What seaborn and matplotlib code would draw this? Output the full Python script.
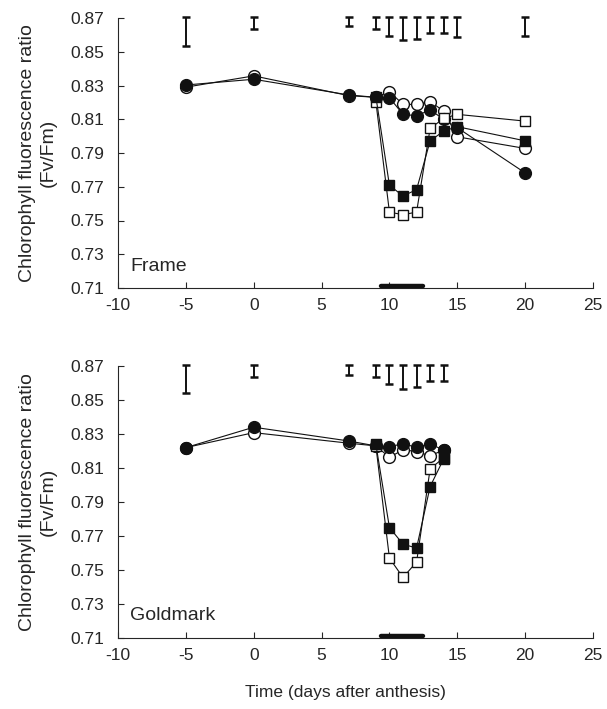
import numpy as np
import pandas as pd
import seaborn as sns
import matplotlib.pyplot as plt

# Frame
frame_circle_days = [-5, 0, 7, 9, 10, 11, 12, 13, 14, 15, 20]
frame_square_days = [9, 10, 11, 12, 13, 14, 15, 20]
frame_open_circle = [0.829, 0.8357, 0.824, 0.823, 0.8264, 0.8188, 0.8188, 0.8204, 0.8149, 0.7996, 0.7927]
frame_filled_circle = [0.8303, 0.8337, 0.8244, 0.823, 0.8228, 0.8129, 0.8121, 0.8155, 0.810, 0.805, 0.7782]
frame_open_square = [0.8204, 0.755, 0.7534, 0.755, 0.8046, 0.8105, 0.8129, 0.8089]
frame_filled_square = [0.8234, 0.7709, 0.7645, 0.7683, 0.7972, 0.8030, 0.8056, 0.7972]
frame_err_days = [-5, 0, 7, 9, 10, 11, 12, 13, 14, 15, 20]
frame_err_top = [0.8705, 0.8705, 0.8705, 0.8705, 0.8705, 0.8705, 0.8705, 0.8705, 0.8705, 0.8705, 0.8705]
frame_err_bottom = [0.8535, 0.8635, 0.865, 0.8635, 0.8595, 0.8567, 0.8575, 0.8611, 0.8611, 0.8585, 0.8595]

# Goldmark
gold_circle_days = [-5, 0, 7, 9, 10, 11, 12, 13, 14]
gold_square_days = [9, 10, 11, 12, 13, 14]
gold_open_circle = [0.822, 0.8308, 0.8246, 0.823, 0.8163, 0.8207, 0.8197, 0.8171, 0.8207]
gold_filled_circle = [0.8220, 0.8340, 0.8259, 0.823, 0.8226, 0.8242, 0.8222, 0.8242, 0.8205]
gold_open_square = [0.823, 0.757, 0.7456, 0.7547, 0.8095, 0.816]
gold_filled_square = [0.824, 0.775, 0.7652, 0.7629, 0.7991, 0.8154]
gold_err_days = [-5, 0, 7, 9, 10, 11, 12, 13, 14]
gold_err_top = [0.8705, 0.8705, 0.8705, 0.8705, 0.8705, 0.8705, 0.8705, 0.8705, 0.8705]
gold_err_bottom = [0.854, 0.8633, 0.865, 0.8633, 0.8594, 0.8563, 0.8579, 0.8612, 0.8612]

heat_period = [9.4, 12.5]
panel_names = ["Frame", "Goldmark"]
y_ticks = [0.71, 0.73, 0.75, 0.77, 0.79, 0.81, 0.83, 0.85, 0.87]
x_ticks = [-10, -5, 0, 5, 10, 15, 20, 25]

sns.set_style("ticks")
plt.rcParams['font.family'] = ['Liberation Sans', 'DejaVu Sans']
plt.rcParams['axes.unicode_minus'] = False

fig = plt.figure(figsize=(6.07, 7.09), dpi=100)
ax1 = fig.add_axes([118 / 607, 1 - 288 / 709, 475 / 607, 270 / 709])
ax2 = fig.add_axes([118 / 607, 1 - 638 / 709, 475 / 607, 272 / 709])

panels = [
    (ax1, frame_circle_days, frame_square_days, frame_open_circle, frame_filled_circle,
     frame_open_square, frame_filled_square, frame_err_days, frame_err_top, frame_err_bottom),
    (ax2, gold_circle_days, gold_square_days, gold_open_circle, gold_filled_circle,
     gold_open_square, gold_filled_square, gold_err_days, gold_err_top, gold_err_bottom),
]

dark = '#111111'
for name, (ax, cd, sd, oc, fc, osq, fsq, ed, et, eb) in zip(panel_names, panels):
    series = [
        (cd, oc, 'o', 'white'),
        (cd, fc, 'o', dark),
        (sd, osq, 's', 'white'),
        (sd, fsq, 's', dark),
    ]
    for days, vals, mk, face in series:
        df = pd.DataFrame({'day': days, 'val': vals})
        sns.lineplot(data=df, x='day', y='val', ax=ax, color=dark, lw=0.8,
                     marker=mk, markersize=8.5 if mk == 'o' else 7.8,
                     markerfacecolor=face, markeredgecolor=dark, markeredgewidth=1.0)
    mid = (np.array(et) + np.array(eb)) / 2
    half = (np.array(et) - np.array(eb)) / 2
    eb_art = ax.errorbar(ed, mid, yerr=half, fmt='none', ecolor=dark, elinewidth=1.4,
                         capsize=3, capthick=1.8)
    for a in eb_art.lines[1] + eb_art.lines[2]:
        a.set_clip_on(False)
    bar = ax.hlines(0.7113, heat_period[0], heat_period[1], color=dark, lw=3.2,
                    clip_on=False, zorder=5)
    bar.set_capstyle('round')

    ax.set_xlim(-10, 25)
    ax.set_ylim(0.71, 0.87)
    ax.set_xticks(x_ticks)
    ax.set_yticks(y_ticks)
    ax.set_yticklabels([f"{v:.2f}" for v in y_ticks])
    ax.tick_params(direction='in', length=4, width=0.8, labelsize=12.5)
    ax.tick_params(axis='y', pad=10)
    ax.tick_params(axis='x', pad=7)
    ax.set_xlabel('')
    ax.set_ylabel('Chlorophyll fluorescence ratio\n(Fv/Fm)', fontsize=14,
                  linespacing=1.3)
    ax.yaxis.set_label_coords(-0.128, 0.5)
    ax.text(-9.1, 0.723, name, fontsize=14, ha='left', va='center')
    sns.despine(ax=ax)
    for sp in ax.spines.values():
        sp.set_linewidth(0.8)

fig.text(345 / 607, 1 - 693 / 709, 'Time (days after anthesis)', ha='center', va='center',
         fontsize=12.5)

fig.savefig('out.png', dpi=100)
